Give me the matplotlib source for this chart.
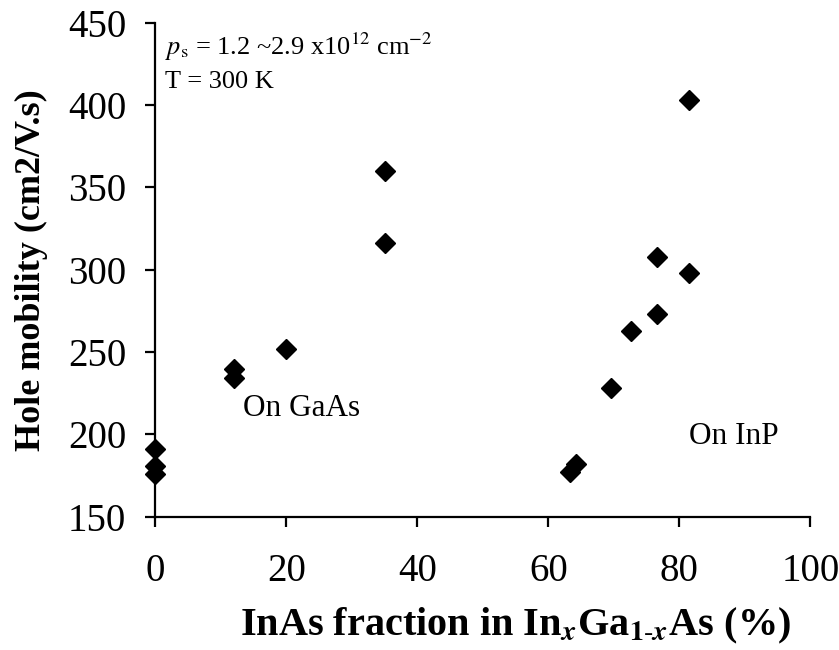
import matplotlib
matplotlib.use('Agg')
import matplotlib.pyplot as plt

plt.rcParams['font.family'] = ['Liberation Serif', 'DejaVu Serif']
plt.rcParams['mathtext.fontset'] = 'stix'

# data
inas_gaas = [0, 0, 0, 12, 12, 20, 35, 35]
mob_gaas = [191, 181, 176, 240, 234, 252, 360, 316]
inas_inp = [63.3, 64.2, 69.6, 72.6, 76.6, 76.6, 81.5, 81.5]
mob_inp = [177, 182, 228, 263, 308, 273, 403, 298]

x_ticks = [0, 20, 40, 60, 80, 100]
y_ticks = [150, 200, 250, 300, 350, 400, 450]

fig = plt.figure(figsize=(8.39, 6.5), dpi=100)
ax = fig.add_axes([0.185, 0.205, 0.781, 0.76])

ax.plot(inas_gaas + inas_inp, mob_gaas + mob_inp, linestyle='none',
        marker='D', markersize=10.5, color='black', clip_on=False)

ax.set_xlim(0, 100)
ax.set_ylim(150, 450)
ax.set_xticks(x_ticks)
ax.set_yticks(y_ticks)

for s in ['top', 'right']:
    ax.spines[s].set_visible(False)
for s in ['left', 'bottom']:
    ax.spines[s].set_linewidth(1.6)

ax.tick_params(direction='out', length=7, width=1.6, labelsize=28)
ax.tick_params(axis='x', pad=19)
ax.tick_params(axis='y', pad=14)

ax.set_ylabel('Hole mobility (cm2/V.s)', fontsize=26, fontweight='bold', labelpad=14)
ax.set_xlabel(r'InAs fraction in In$_{\mathbfit{x}}$Ga$_{\mathbf{1\text{-}}\mathbfit{x}}$As (%)',
              fontsize=29, fontweight='bold')
ax.xaxis.set_label_coords(0.55, -0.18)

ax.text(1.5, 430.5, r'$p_{\mathrm{s}}$ = 1.2 ~2.9 x10$^{12}$ cm$^{-2}$', fontsize=19, va='baseline')
ax.text(1.5, 410.5, 'T = 300 K', fontsize=19, va='baseline')
ax.text(13.4, 215.5, 'On GaAs', fontsize=22.5, va='center')
ax.text(81.5, 199, 'On InP', fontsize=22.5, va='center')

plt.savefig('out.png', dpi=100)
plt.close()
